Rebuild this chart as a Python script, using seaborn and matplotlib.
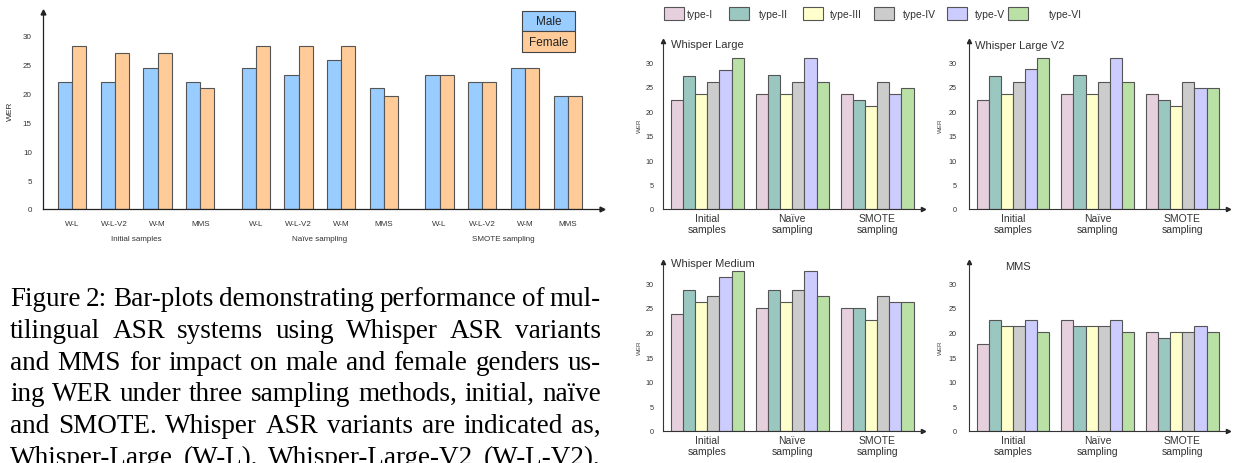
import matplotlib
matplotlib.use('Agg')
import matplotlib.pyplot as plt
from matplotlib.patches import Rectangle
import seaborn as sns
import numpy as np
import pandas as pd

# ---- data ----
models = ['W-L', 'W-L-V2', 'W-M', 'MMS']
left_groups = ['Initial samples', 'Naïve sampling', 'SMOTE sampling']
male = [22.0, 22.0, 24.4, 22.0, 24.4, 23.2, 25.7, 20.8, 23.2, 22.0, 24.4, 19.5]
female = [28.2, 27.0, 27.0, 20.8, 28.2, 28.2, 28.2, 19.5, 23.2, 22.0, 24.4, 19.5]

types = ['type-I', 'type-II', 'type-III', 'type-IV', 'type-V', 'type-VI']
samplings = ['Initial\nsamples', 'Naïve\nsampling', 'SMOTE\nsampling']
whisper_large = [[22.3, 27.2, 23.5, 26.0, 28.4, 30.9],
                 [23.5, 27.3, 23.5, 26.0, 30.9, 26.0],
                 [23.5, 22.3, 21.0, 26.0, 23.5, 24.7]]
whisper_large_v2 = [[22.3, 27.2, 23.5, 26.0, 28.5, 30.9],
                    [23.5, 27.3, 23.5, 26.0, 30.9, 26.0],
                    [23.5, 22.3, 21.0, 26.0, 24.8, 24.8]]
whisper_medium = [[23.7, 28.7, 26.2, 27.4, 31.2, 32.4],
                  [25.0, 28.7, 26.2, 28.7, 32.4, 27.4],
                  [25.0, 25.0, 22.6, 27.4, 26.2, 26.2]]
mms = [[17.6, 22.6, 21.3, 21.3, 22.6, 20.1],
       [22.6, 21.3, 21.3, 21.3, 22.6, 20.1],
       [20.1, 18.9, 20.1, 20.1, 21.3, 20.1]]

caption = [
    "Figure 2: Bar-plots demonstrating performance of mul-",
    "tilingual ASR systems using Whisper ASR variants",
    "and MMS for impact on male and female genders us-",
    "ing WER under three sampling methods, initial, naïve",
    "and SMOTE. Whisper ASR variants are indicated as,",
    "Whisper-Large (W-L), Whisper-Large-V2 (W-L-V2),",
]

gender_colors = {'Male': '#99CCFF', 'Female': '#FFCC99'}
type_colors = dict(zip(types, ['#E6D0DE', '#9AC7BF', '#FFFFCC', '#CCCCCC', '#CCCCFF', '#B9E0A5']))

sns.set_theme(style='white')
plt.rcParams['font.family'] = ['Liberation Sans', 'DejaVu Sans']

W, H = 1234, 464
fig = plt.figure(figsize=(W / 100, H / 100), dpi=100)


def box(x0, y0, x1, y1):
    # pixel box (top-left origin) -> figure rect
    return [x0 / W, 1 - y1 / H, (x1 - x0) / W, (y1 - y0) / H]


def arrows(ax, color, ms=3.5):
    ax.plot(1, 0, '>', color=color, ms=ms, transform=ax.transAxes, clip_on=False)
    ax.plot(0, 1, '^', color=color, ms=ms, transform=ax.transAxes, clip_on=False)


# ---- left chart: male vs female ----
ax = fig.add_axes(box(43, 13, 602, 210))
pos = []
for g in range(3):
    pos += [g * 4.3 + i for i in range(4)]
df = pd.DataFrame({'pos': pos * 2, 'wer': male + female,
                   'gender': ['Male'] * 12 + ['Female'] * 12})
sns.barplot(data=df, x='pos', y='wer', hue='gender', native_scale=True, width=0.66,
            palette=gender_colors, saturation=1, edgecolor='#555555', linewidth=0.8,
            errorbar=None, legend=False, ax=ax)
ax.set_xlim(-0.68, 12.4)
ax.set_ylim(0, 34)
ax.set_yticks(range(0, 31, 5))
ax.set_xticks(pos)
ax.set_xticklabels(models * 3)
ax.tick_params(axis='both', length=0, labelsize=5.8, colors='#333333')
ax.tick_params(axis='y', pad=8)
ax.tick_params(axis='x', pad=8)
ax.set_xlabel('')
ax.set_ylabel('WER', fontsize=6, color='#333333')
ax.yaxis.set_label_coords(-29 / 559, 0.5)
for s in ['top', 'right']:
    ax.spines[s].set_visible(False)
for s in ['left', 'bottom']:
    ax.spines[s].set_color('#222222')
    ax.spines[s].set_linewidth(0.9)
arrows(ax, '#222222')
for g, name in enumerate(left_groups):
    ax.text(g * 4.3 + 1.5, -30 / 197 * 34, name, ha='center', va='center',
            fontsize=5.8, color='#333333', clip_on=False)

# legend boxes
for (y0, y1), lab in zip([(12, 32), (32, 53)], ['Male', 'Female']):
    fig.patches.append(Rectangle((522 / W, 1 - y1 / H), 53 / W, (y1 - y0) / H,
                                 transform=fig.transFigure, facecolor=gender_colors[lab],
                                 edgecolor='#444444', linewidth=0.8))
    fig.text(548.5 / W, 1 - (y0 + y1) / 2 / H, lab, ha='center', va='center',
             fontsize=8.5, color='#222222')

# ---- right charts ----
panels = [
    ('Whisper Large', whisper_large, (663, 42, 923, 210), 21, (671, 45)),
    ('Whisper Large V2', whisper_large_v2, (969, 42, 1228, 210), 26, (975, 46)),
    ('Whisper Medium', whisper_medium, (663, 263, 923, 432), 21, (671, 264)),
    ('MMS', mms, (969, 263, 1228, 432), 26, (1005, 267)),
]
for title, vals, (x0, y0, x1, y1), lab_off, (tx, ty) in panels:
    ax = fig.add_axes(box(x0, y0, x1, y1))
    rows = [(s, t, vals[i][j]) for i, s in enumerate(samplings) for j, t in enumerate(types)]
    d = pd.DataFrame(rows, columns=['sampling', 'type', 'wer'])
    sns.barplot(data=d, x='sampling', y='wer', hue='type', palette=type_colors,
                saturation=1, width=0.86, edgecolor='#555555', linewidth=0.8,
                errorbar=None, legend=False, ax=ax)
    ax.set_xlim(-0.52, 2.54)
    ax.set_ylim(0, 34.3)
    ax.set_yticks(range(0, 31, 5))
    ax.tick_params(axis='both', length=0, colors='#333333')
    ax.tick_params(axis='y', labelsize=5.2, pad=7 if lab_off == 21 else 9)
    ax.tick_params(axis='x', labelsize=7.5, pad=3)
    for t in ax.get_xticklabels():
        t.set_linespacing(1.15)
    ax.set_xlabel('')
    ax.set_ylabel('WER', fontsize=4.5, color='#444444')
    ax.yaxis.set_label_coords(-lab_off / (x1 - x0), 0.5)
    for s in ['top', 'right']:
        ax.spines[s].set_visible(False)
    for s in ['left', 'bottom']:
        ax.spines[s].set_color('#333333')
        ax.spines[s].set_linewidth(0.8)
    arrows(ax, '#222222', ms=3)
    fig.text(tx / W, 1 - ty / H, title, ha='left', va='center', fontsize=8, color='#333333')

# top legend
leg_x = [(664, 687), (729, 759), (803, 830), (874, 903), (947, 975), (1008, 1049)]
for (px, tx), t in zip(leg_x, types):
    fig.patches.append(Rectangle((px / W, 1 - 21 / H), 20 / W, 13 / H,
                                 transform=fig.transFigure, facecolor=type_colors[t],
                                 edgecolor='#555555', linewidth=0.8))
    fig.text(tx / W, 1 - 14.5 / H, t, ha='left', va='center', fontsize=7.5, color='#333333')

# ---- caption (justified) ----
renderer = fig.canvas.get_renderer()
cx0, cx1 = 10, 601
for k, line in enumerate(caption):
    yb = 306 + 31.8 * k
    words = line.split()
    txts = [fig.text(0, 1 - yb / H, w, ha='left', va='baseline', fontsize=19.5,
                     family='Liberation Serif', color='black') for w in words]
    widths = [t.get_window_extent(renderer).width for t in txts]
    gap = max((cx1 - cx0 - sum(widths)) / (len(words) - 1), 4)
    x = cx0
    for t, w in zip(txts, widths):
        t.set_x(x / W)
        x += w + gap

fig.savefig('out.png', dpi=100)
